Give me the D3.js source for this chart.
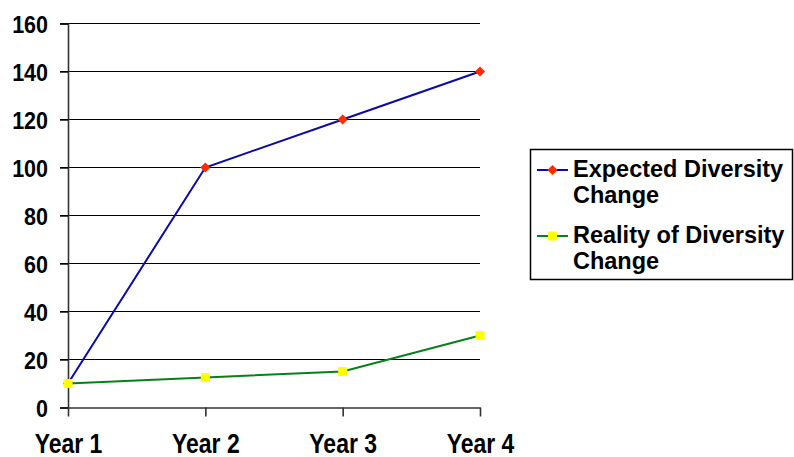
<!DOCTYPE html>
<html>
<head>
<meta charset="utf-8">
<script src="https://d3js.org/d3.v7.min.js"></script>
<style>
  body { margin: 0; background: #fff; }
  text { font-family: "Liberation Sans", Arial, sans-serif; font-weight: bold; fill: #000; }
</style>
</head>
<body>
<svg id="chart" width="794" height="457"></svg>
<script>
// chart data
var years = ["Year 1", "Year 2", "Year 3", "Year 4"];
var expected = [10, 100, 120, 140];
var reality = [10, 12.5, 15, 30];
var yTicks = [0, 20, 40, 60, 80, 100, 120, 140, 160];
var seriesNames = [["Expected Diversity", "Change"], ["Reality of Diversity", "Change"]];

var svg = d3.select("#chart");

var x = d3.scalePoint()
    .domain(years)
    .range([68, 480]);

var y = d3.scaleLinear()
    .domain([0, 160])
    .range([407.5, 23.5]);

// gridlines
svg.append("g")
  .selectAll("line")
  .data(yTicks.filter(function(d) { return d > 0; }))
  .enter().append("line")
    .attr("x1", 60).attr("x2", 480)
    .attr("y1", function(d) { return y(d); })
    .attr("y2", function(d) { return y(d); })
    .attr("stroke", "#000")
    .attr("stroke-width", 1.2);

// y axis
var yAxis = svg.append("g")
    .attr("transform", "translate(68,0)")
    .call(d3.axisLeft(y).tickValues(yTicks).tickSize(8));
yAxis.select(".domain").attr("stroke", "#333").attr("stroke-width", 1.6);
yAxis.selectAll(".tick line").attr("stroke", "#000").attr("stroke-width", 1.4);
// labels are a bit taller than plain Arial bold, so stretch them
yAxis.selectAll("text")
    .attr("x", null).attr("dy", null)
    .attr("text-anchor", "end")
    .style("font-size", "21.5px")
    .attr("transform", "translate(-20,8.5) scale(1,1.08)");

// x axis
var xAxis = svg.append("g")
    .attr("transform", "translate(0," + y(0) + ")")
    .call(d3.axisBottom(x).tickSize(9).tickSizeOuter(0));
xAxis.select(".domain").attr("stroke", "#333").attr("stroke-width", 1.6);
xAxis.selectAll(".tick line").attr("stroke", "#333").attr("stroke-width", 1.6);
xAxis.selectAll("text")
    .attr("y", null).attr("dy", null)
    .style("font-size", "23px")
    .attr("transform", "translate(0,45.5) scale(1,1.18)");

var line = d3.line()
    .x(function(d, i) { return x(years[i]); })
    .y(function(d) { return y(d); });

// Expected series
svg.append("path")
    .datum(expected)
    .attr("d", line)
    .attr("fill", "none")
    .attr("stroke", "#0a0aa8")
    .attr("stroke-width", 2);

// Reality series
svg.append("path")
    .datum(reality)
    .attr("d", line)
    .attr("fill", "none")
    .attr("stroke", "#08801a")
    .attr("stroke-width", 2);

var diamond = d3.symbol().type(d3.symbolSquare).size(52);
var square = d3.symbol().type(d3.symbolSquare).size(80);

svg.append("g").selectAll("path")
  .data(expected)
  .enter().append("path")
    .attr("d", diamond)
    .attr("transform", function(d, i) { return "translate(" + x(years[i]) + "," + y(d) + ") rotate(45)"; })
    .attr("fill", "#ff2a00");

svg.append("g").selectAll("path")
  .data(reality)
  .enter().append("path")
    .attr("d", square)
    .attr("transform", function(d, i) { return "translate(" + x(years[i]) + "," + y(d) + ")"; })
    .attr("fill", "#ffff00");

// legend
var legend = svg.append("g");
legend.append("rect")
    .attr("x", 530.5).attr("y", 149.5)
    .attr("width", 262).attr("height", 130)
    .attr("fill", "#fff")
    .attr("stroke", "#000")
    .attr("stroke-width", 1.5);

var legendMarks = [["#0a0aa8", "#ff2a00", diamond, " rotate(45)"], ["#08801a", "#ffff00", square, ""]];
var legendY = [170, 236];

legendY.forEach(function(ly, i) {
  legend.append("line")
      .attr("x1", 537).attr("x2", 568)
      .attr("y1", ly).attr("y2", ly)
      .attr("stroke", legendMarks[i][0])
      .attr("stroke-width", 2);
  legend.append("path")
      .attr("d", legendMarks[i][2])
      .attr("transform", "translate(552.5," + ly + ")" + legendMarks[i][3])
      .attr("fill", legendMarks[i][1]);
  seriesNames[i].forEach(function(t, j) {
    legend.append("text")
        .attr("transform", "translate(573," + (ly + 7 + j * 26) + ") scale(1,1.05)")
        .style("font-size", "23.5px")
        .text(t);
  });
});
</script>
</body>
</html>
